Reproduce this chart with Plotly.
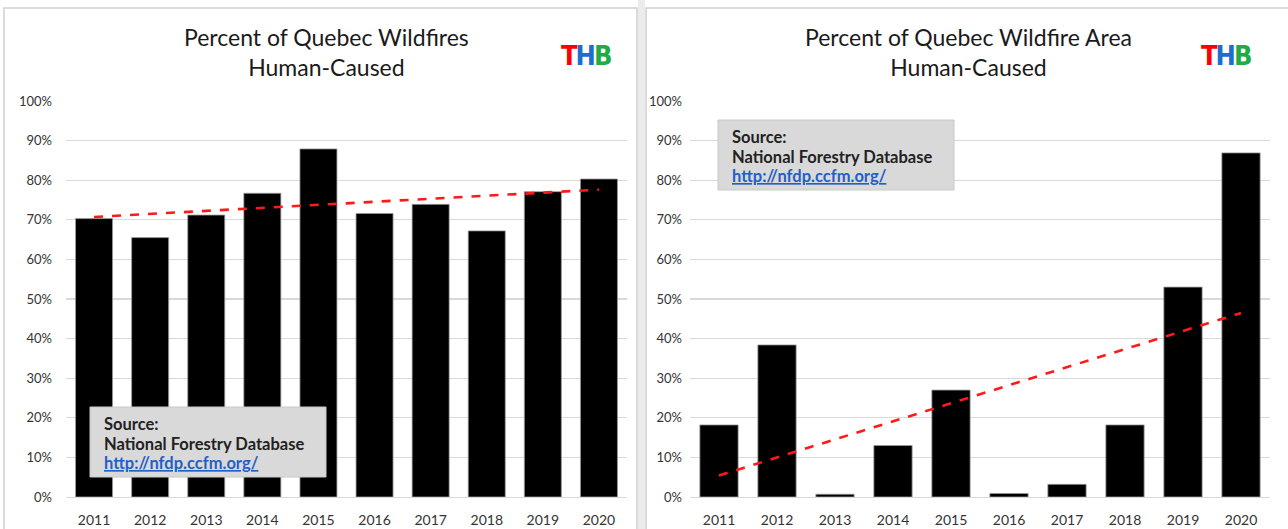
import numpy as np
import plotly.graph_objects as go

W, H = 1288, 529

years = ["2011", "2012", "2013", "2014", "2015", "2016", "2017", "2018", "2019", "2020"]
pct_fires_human = [70.3, 65.5, 71.2, 76.7, 87.9, 71.6, 73.9, 67.2, 77.1, 80.3]
pct_area_human = [18.2, 38.4, 0.7, 13.0, 27.0, 0.9, 3.2, 18.2, 53.0, 86.9]
y_ticks = [0, 10, 20, 30, 40, 50, 60, 70, 80, 90, 100]
title_left = "Percent of Quebec Wildfires<br>Human-Caused"
title_right = "Percent of Quebec Wildfire Area<br>Human-Caused"
source_lines = ["<b>Source:</b>", "<b>National Forestry Database</b>",
                "<b><span style='color:#1f5fc8'><u>http://nfdp.ccfm.org/</u></span></b>"]


def px(x):
    return x / W


def py(y):
    return 1 - y / H


def trend(vals):
    xi = np.arange(len(vals))
    m, b = np.polyfit(xi, np.array(vals, dtype=float), 1)
    return list(m * xi + b)


FONT = "Lato, 'Open Sans', sans-serif"

fig = go.Figure()

for vals, xa, ya in [(pct_fires_human, "x", "y"), (pct_area_human, "x2", "y2")]:
    fig.add_trace(go.Bar(
        x=years, y=[v / 100 for v in vals], xaxis=xa, yaxis=ya,
        marker=dict(color="black", line=dict(color="#9a9a9a", width=0.8)),
        width=0.66, showlegend=False, hoverinfo="skip"))
    fig.add_trace(go.Scatter(
        x=years, y=[v / 100 for v in trend(vals)], xaxis=xa, yaxis=ya,
        mode="lines", line=dict(color="#ff1a1a", width=2.6, dash="dash"),
        showlegend=False, hoverinfo="skip"))

ydom = [py(497), py(101)]
common_y = dict(range=[0, 1], tickvals=[t / 100 for t in y_ticks],
                ticktext=[f"{t}%" for t in y_ticks],
                showgrid=True, gridcolor="#d9d9d9", gridwidth=1.2,
                zeroline=False, showline=False, ticks="", automargin=False,
                tickfont=dict(family=FONT, size=13, color="#333333"),
                domain=ydom, fixedrange=True)
common_x = dict(type="category", showgrid=False, showline=True, linecolor="#d9d9d9",
                linewidth=1.2, ticks="", automargin=False,
                tickfont=dict(family=FONT, size=14, color="#333333"),
                ticklabelstandoff=10, fixedrange=True)

fig.update_layout(
    width=W, height=H,
    margin=dict(l=0, r=0, t=0, b=0, autoexpand=False),
    paper_bgcolor="white", plot_bgcolor="white",
    xaxis=dict(domain=[px(66), px(627)], anchor="y", **common_x),
    yaxis=dict(anchor="x", ticklabelstandoff=13, **common_y),
    xaxis2=dict(domain=[px(690), px(1270)], anchor="y2", **common_x),
    yaxis2=dict(anchor="x2", ticklabelstandoff=7, **common_y),
    bargap=0.34,
)

shapes = []
# panel borders
shapes.append(dict(type="rect", xref="paper", yref="paper",
                   x0=px(4), x1=px(637), y0=py(540), y1=py(8),
                   line=dict(color="#d0d0d0", width=1.5), fillcolor="rgba(0,0,0,0)", layer="below"))
shapes.append(dict(type="rect", xref="paper", yref="paper",
                   x0=px(646), x1=px(1300), y0=py(540), y1=py(8),
                   line=dict(color="#d0d0d0", width=1.5), fillcolor="rgba(0,0,0,0)", layer="below"))
shapes.append(dict(type="rect", xref="paper", yref="paper",
                   x0=px(638), x1=px(645), y0=py(540), y1=py(0),
                   line=dict(width=0), fillcolor="#ececec", layer="below"))
# source boxes
shapes.append(dict(type="rect", xref="paper", yref="paper",
                   x0=px(90), x1=px(326), y0=py(477), y1=py(407),
                   line=dict(color="#c8c8c8", width=1), fillcolor="#d9d9d9", layer="above"))
shapes.append(dict(type="rect", xref="paper", yref="paper",
                   x0=px(718), x1=px(954), y0=py(190), y1=py(120),
                   line=dict(color="#c8c8c8", width=1), fillcolor="#d9d9d9", layer="above"))
fig.update_layout(shapes=shapes)

annotations = []
for text, cx in [(title_left, 326), (title_right, 968)]:
    annotations.append(dict(text=text, x=px(cx), y=py(21), xref="paper", yref="paper",
                            xanchor="center", yanchor="top", showarrow=False, align="center",
                            font=dict(family=FONT, size=23, color="#1a1a1a")))
logo = ("<b><span style='color:#ff0000;letter-spacing:-2px'>T</span>"
        "<span style='color:#1a6fd0;letter-spacing:-2px'>H</span>"
        "<span style='color:#22aa44'>B</span></b>")
for cx in [586, 1226]:
    annotations.append(dict(text=logo, x=px(cx), y=py(55), xref="paper", yref="paper",
                            xanchor="center", yanchor="middle", showarrow=False,
                            font=dict(family="'Liberation Sans Narrow', 'DejaVu Sans Condensed', sans-serif",
                                      size=27)))
for x0, ytop in [(102, 407), (730, 120)]:
    for i, line in enumerate(source_lines):
        yc = ytop + [17, 37, 56][i]
        annotations.append(dict(text=line, x=px(x0), y=py(yc), xref="paper", yref="paper",
                                xanchor="left", yanchor="middle", showarrow=False, align="left",
                                font=dict(family=FONT, size=16.5, color="#222222")))
fig.update_layout(annotations=annotations)

fig.write_html("out.html", config={"displayModeBar": False, "staticPlot": True},
               post_script="document.body.style.margin='0';document.body.style.overflow='hidden';")
